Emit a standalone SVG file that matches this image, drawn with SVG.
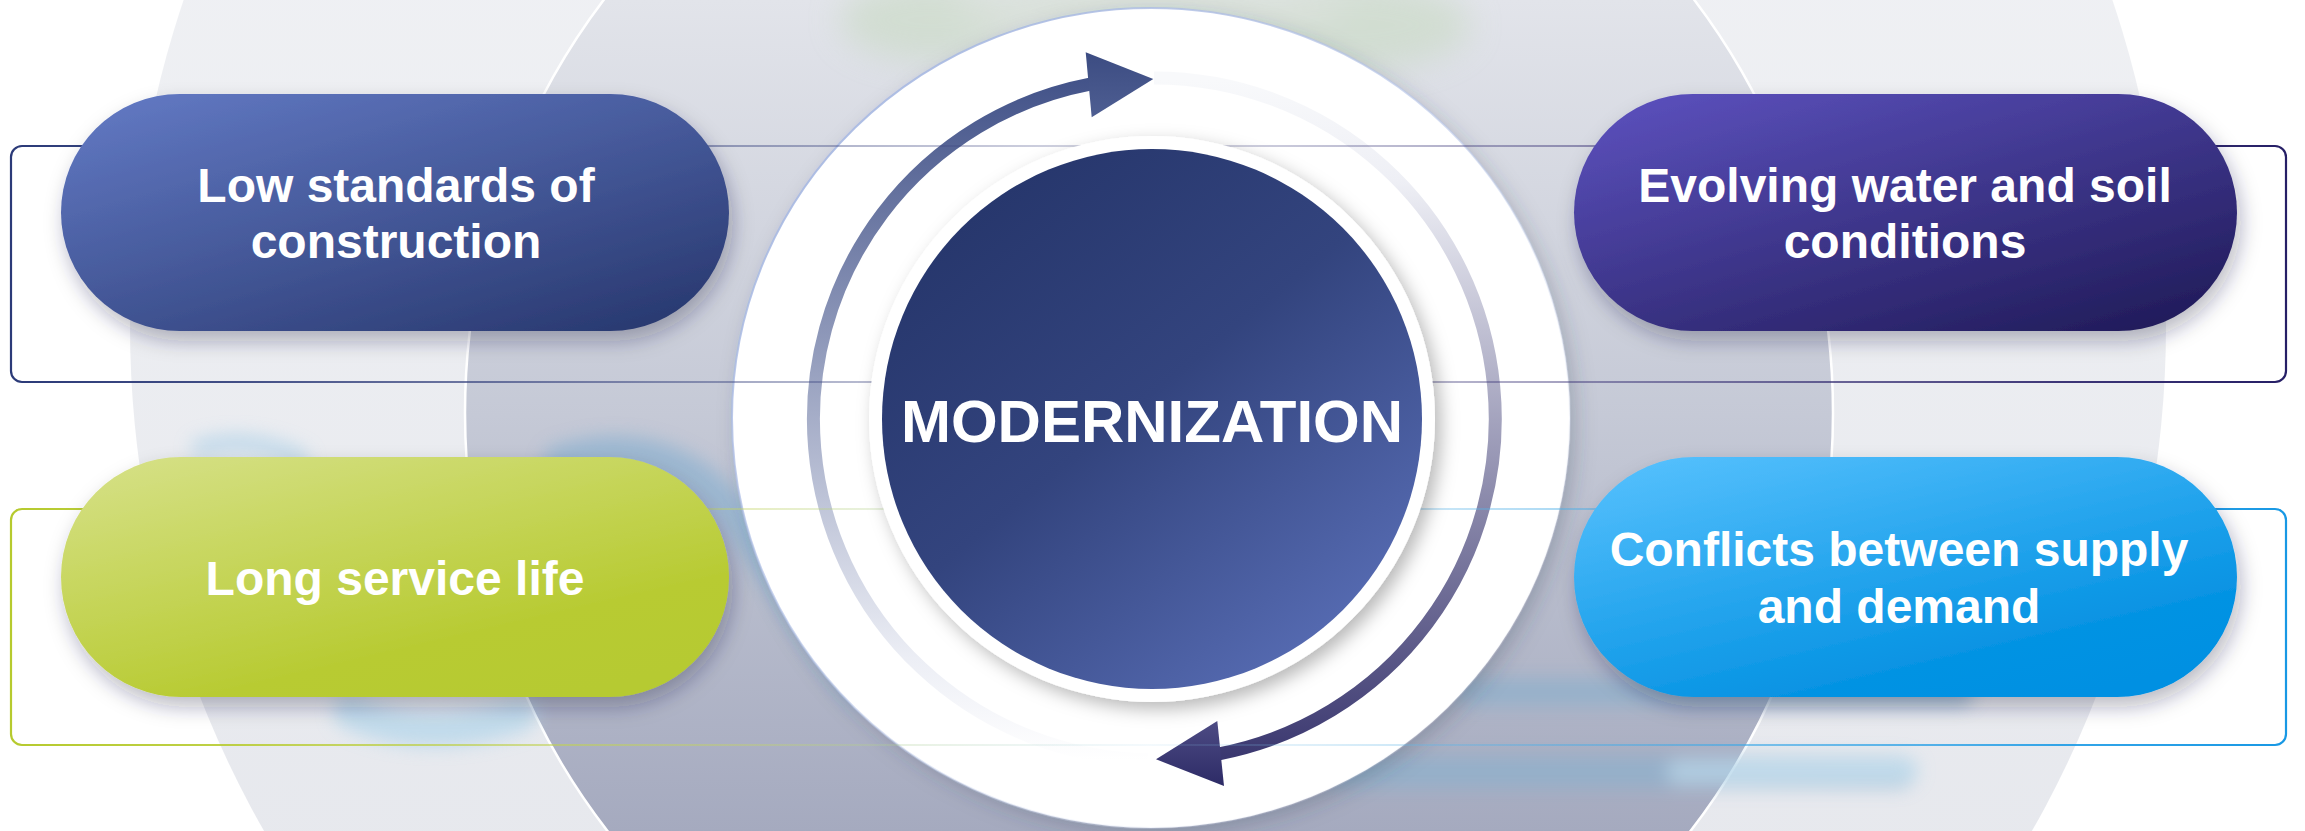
<svg xmlns="http://www.w3.org/2000/svg" width="2305" height="831" viewBox="0 0 2305 831">
  <defs>
    <style>
      .lbl { font-family: "Liberation Sans", Arial, sans-serif; font-weight: bold; font-size: 48px; fill: #ffffff; text-anchor: middle; }
      .title { font-family: "Liberation Sans", Arial, sans-serif; font-weight: bold; font-size: 60px; fill: #ffffff; text-anchor: middle; }
      .outline { fill: none; stroke-width: 2.2; }
      .blurBlue { fill: none; stroke-linecap: round; }
    </style>
    <linearGradient id="gLight" x1="0" y1="0" x2="0" y2="1">
      <stop offset="0" stop-color="#f5f6f8"/>
      <stop offset="1" stop-color="#e2e4ea"/>
    </linearGradient>
    <linearGradient id="gMed" gradientUnits="userSpaceOnUse" x1="0" y1="0" x2="0" y2="831">
      <stop offset="0" stop-color="#e2e4ea"/>
      <stop offset="0.5" stop-color="#c5c9d6"/>
      <stop offset="1" stop-color="#a5aabf"/>
    </linearGradient>
    <linearGradient id="gOuterStroke" x1="0" y1="0" x2="1" y2="1">
      <stop offset="0" stop-color="#9fb2e0"/>
      <stop offset="0.5" stop-color="#b8c6e8" stop-opacity="0.6"/>
      <stop offset="1" stop-color="#ffffff" stop-opacity="0"/>
    </linearGradient>
    <linearGradient id="gTopRect" gradientUnits="userSpaceOnUse" x1="11" y1="0" x2="2286" y2="0">
      <stop offset="0" stop-color="#2b3a78"/>
      <stop offset="0.1" stop-color="#2f3d7a" stop-opacity="0.9"/>
      <stop offset="0.32" stop-color="#3a4580" stop-opacity="0.45"/>
      <stop offset="0.5" stop-color="#404580" stop-opacity="0.2"/>
      <stop offset="0.68" stop-color="#3a3276" stop-opacity="0.45"/>
      <stop offset="0.9" stop-color="#2a226a" stop-opacity="0.9"/>
      <stop offset="1" stop-color="#261f66"/>
    </linearGradient>
    <linearGradient id="gBotRect" gradientUnits="userSpaceOnUse" x1="11" y1="0" x2="2286" y2="0">
      <stop offset="0" stop-color="#b6ca2e"/>
      <stop offset="0.1" stop-color="#b8cc33" stop-opacity="0.9"/>
      <stop offset="0.32" stop-color="#c4d460" stop-opacity="0.4"/>
      <stop offset="0.5" stop-color="#90c8e8" stop-opacity="0.1"/>
      <stop offset="0.68" stop-color="#4aaee8" stop-opacity="0.45"/>
      <stop offset="0.9" stop-color="#1e9ce6" stop-opacity="0.9"/>
      <stop offset="1" stop-color="#1898e4"/>
    </linearGradient>
    <linearGradient id="gArcA" gradientUnits="userSpaceOnUse" x1="0" y1="760" x2="0" y2="80">
      <stop offset="0" stop-color="#ffffff"/>
      <stop offset="0.15" stop-color="#eceef5"/>
      <stop offset="1" stop-color="#435389"/>
    </linearGradient>
    <linearGradient id="gArcB" gradientUnits="userSpaceOnUse" x1="0" y1="80" x2="0" y2="760">
      <stop offset="0" stop-color="#f8f9fb"/>
      <stop offset="0.15" stop-color="#eeeff5"/>
      <stop offset="1" stop-color="#3a376f"/>
    </linearGradient>
    <linearGradient id="gHeadA" x1="0" y1="0" x2="0" y2="1">
      <stop offset="0" stop-color="#3c4c82"/>
      <stop offset="1" stop-color="#4e5e92"/>
    </linearGradient>
    <linearGradient id="gHeadB" x1="0" y1="0" x2="0" y2="1">
      <stop offset="0" stop-color="#4d4b84"/>
      <stop offset="1" stop-color="#2d2b66"/>
    </linearGradient>
    <linearGradient id="gNavy" x1="0.2" y1="0.1" x2="0.85" y2="0.9">
      <stop offset="0" stop-color="#27376d"/>
      <stop offset="0.45" stop-color="#33447e"/>
      <stop offset="1" stop-color="#566bb2"/>
    </linearGradient>
    <linearGradient id="gP1" x1="0.1" y1="0" x2="0.9" y2="1">
      <stop offset="0" stop-color="#6178c2"/>
      <stop offset="1" stop-color="#28386f"/>
    </linearGradient>
    <linearGradient id="gP2" x1="0.1" y1="0" x2="0.9" y2="1">
      <stop offset="0" stop-color="#5b50bc"/>
      <stop offset="1" stop-color="#201b59"/>
    </linearGradient>
    <linearGradient id="gP3" x1="0.1" y1="0" x2="0.75" y2="1">
      <stop offset="0" stop-color="#d5e085"/>
      <stop offset="0.75" stop-color="#b8cb33"/>
      <stop offset="1" stop-color="#b6ca30"/>
    </linearGradient>
    <linearGradient id="gP4" x1="0.1" y1="0" x2="0.75" y2="1">
      <stop offset="0" stop-color="#55c0fd"/>
      <stop offset="0.8" stop-color="#0693e3"/>
      <stop offset="1" stop-color="#0390e2"/>
    </linearGradient>
    <filter id="fBlur" x="-30%" y="-50%" width="160%" height="200%">
      <feGaussianBlur stdDeviation="9"/>
    </filter>
    <filter id="fBlurBig" x="-30%" y="-80%" width="160%" height="260%">
      <feGaussianBlur stdDeviation="16"/>
    </filter>
    <filter id="fPill" x="-15%" y="-25%" width="135%" height="160%">
      <feDropShadow dx="4" dy="10" stdDeviation="10" flood-color="#1a2040" flood-opacity="0.3"/>
    </filter>
    <filter id="fDisk" x="-20%" y="-20%" width="145%" height="145%">
      <feDropShadow dx="6" dy="7" stdDeviation="9" flood-color="#000000" flood-opacity="0.28"/>
    </filter>
    <filter id="fOuter" x="-10%" y="-10%" width="125%" height="125%">
      <feDropShadow dx="6" dy="6" stdDeviation="10" flood-color="#303850" flood-opacity="0.25"/>
    </filter>
  </defs>

  <!-- background -->
  <g id="background">
    <rect x="0" y="0" width="2305" height="831" fill="#ffffff"/>
    <circle cx="1148" cy="326" r="1018" fill="url(#gLight)"/>
    <circle cx="1149" cy="413" r="684" fill="url(#gMed)" stroke="#ffffff" stroke-width="2.5"/>
    <!-- green foliage blur at top -->
    <g filter="url(#fBlurBig)" opacity="0.55">
      <ellipse cx="930" cy="20" rx="90" ry="40" fill="#c6d9bf"/>
      <ellipse cx="1350" cy="25" rx="120" ry="45" fill="#c6d9bf"/>
      <ellipse cx="1150" cy="10" rx="200" ry="30" fill="#d3dfcd"/>
    </g>
    <!-- blue water blur -->
    <g filter="url(#fBlur)" opacity="0.75">
      <path class="blurBlue" d="M200,448 C240,438 270,445 300,458" stroke="#b3d3e8" stroke-width="18"/>
      <path class="blurBlue" d="M560,462 C630,440 690,460 730,510 C770,560 800,620 860,690" stroke="#8fb2d0" stroke-width="34"/>
      <path class="blurBlue" d="M350,712 C400,735 460,735 520,715" stroke="#b3d5ea" stroke-width="34"/>
      <path class="blurBlue" d="M1470,692 L1960,692" stroke="#8eb0cc" stroke-width="28"/>
      <path class="blurBlue" d="M1340,772 L1900,772" stroke="#8eb0cc" stroke-width="32"/>
      <path class="blurBlue" d="M1680,772 L1905,770" stroke="#b3d6ea" stroke-width="26"/>
    </g>
  </g>

  <!-- central white disc -->
  <g id="hub-back">
    <ellipse cx="1151" cy="418" rx="419" ry="410" fill="#ffffff" filter="url(#fOuter)"/>
    <ellipse cx="1151" cy="418" rx="419" ry="410" fill="none" stroke="url(#gOuterStroke)" stroke-width="2"/>
  </g>

  <!-- connectors: circular arrows -->
  <g id="connectors">
    <path d="M1148,760 A341,341 0 0 1 1090,84.2" fill="none" stroke="url(#gArcA)" stroke-width="13"/>
    <polygon points="1085.7,52.3 1153.3,79 1091.7,117.3" fill="url(#gHeadA)"/>
    <path d="M1154,78 A341,341 0 0 1 1219,753.8" fill="none" stroke="url(#gArcB)" stroke-width="13"/>
    <polygon points="1217.3,721 1156,759.3 1224,786" fill="url(#gHeadB)"/>
  </g>

  <!-- frame outlines -->
  <g id="frames">
    <rect class="outline" x="11" y="146" width="2275" height="236" rx="11" stroke="url(#gTopRect)"/>
    <rect class="outline" x="11" y="509" width="2275" height="236" rx="11" stroke="url(#gBotRect)"/>
  </g>

  <!-- central node -->
  <g id="node-modernization">
    <circle cx="1152" cy="419" r="283" fill="#ffffff" filter="url(#fDisk)"/>
    <circle cx="1152" cy="419" r="270" fill="url(#gNavy)"/>
    <text class="title" x="1152" y="442">MODERNIZATION</text>
  </g>

  <g id="node-low-standards">
    <rect x="61" y="94" width="668" height="237" rx="118.5" fill="url(#gP1)" filter="url(#fPill)"/>
    <text class="lbl" x="396" y="202">Low standards of</text>
    <text class="lbl" x="396" y="258">construction</text>
  </g>

  <g id="node-evolving">
    <rect x="1574" y="94" width="663" height="237" rx="118.5" fill="url(#gP2)" filter="url(#fPill)"/>
    <text class="lbl" x="1905" y="202">Evolving water and soil</text>
    <text class="lbl" x="1905" y="258">conditions</text>
  </g>

  <g id="node-long-service">
    <rect x="61" y="457" width="668" height="240" rx="120" fill="url(#gP3)" filter="url(#fPill)"/>
    <text class="lbl" x="395" y="595">Long service life</text>
  </g>

  <g id="node-conflicts">
    <rect x="1574" y="457" width="663" height="240" rx="120" fill="url(#gP4)" filter="url(#fPill)"/>
    <text class="lbl" x="1899" y="566">Conflicts between supply</text>
    <text class="lbl" x="1899" y="623">and demand</text>
  </g>
</svg>
